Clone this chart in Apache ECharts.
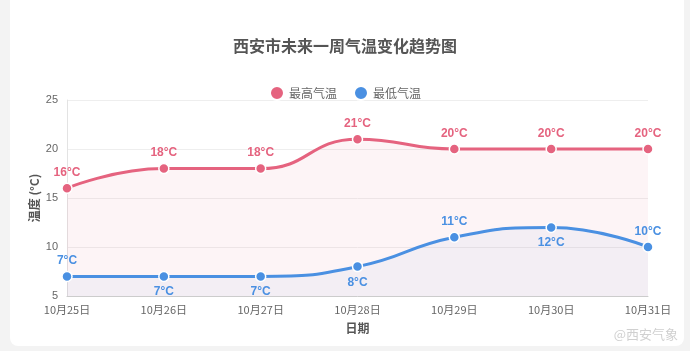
<!DOCTYPE html>
<html>
<head>
<meta charset="utf-8">
<script src="https://cdn.jsdelivr.net/npm/echarts@6/dist/echarts.min.js"></script>
<style>
  html, body { margin: 0; padding: 0; background: #f3f3f3; }
  .card { position: absolute; left: 10px; top: -10px; width: 674px; height: 356px; background: #fff; border-radius: 8px; }
  #chart { position: absolute; left: 0; top: 0; width: 690px; height: 351px; }
</style>
</head>
<body>
<div class="card"></div>
<div id="chart"></div>
<script>
  const days = ['10月25日', '10月26日', '10月27日', '10月28日', '10月29日', '10月30日', '10月31日'];
  const highTemp = [16, 18, 18, 21, 20, 20, 20];
  const lowTemp = [7, 7, 7, 8, 11, 12, 10];
  // 低温标签位置
  const lowLabelPos = ['top', 'bottom', 'bottom', 'bottom', 'top', 'bottom', 'top'];

  const red = '#e5637f';
  const blue = '#4a90e2';

  const chart = echarts.init(document.getElementById('chart'));
  const option = {
    title: {
      text: '西安市未来一周气温变化趋势图',
      left: 'center',
      top: 33,
      textStyle: { color: '#555', fontSize: 16, fontWeight: 'bold', fontFamily: 'Noto Sans CJK SC' }
    },
    legend: {
      top: 80,
      left: 'center',
      icon: 'circle',
      itemWidth: 14,
      itemHeight: 14,
      itemGap: 16,
      textStyle: { color: '#666', fontSize: 12, fontFamily: 'Noto Sans CJK SC' },
      data: ['最高气温', '最低气温']
    },
    grid: { left: 67, right: 42, top: 100, bottom: 55 },
    xAxis: {
      type: 'category',
      data: days,
      boundaryGap: false,
      name: '日期',
      nameLocation: 'middle',
      nameGap: 26,
      nameTextStyle: { color: '#555', fontSize: 12, fontWeight: 'bold', fontFamily: 'Noto Sans CJK SC' },
      axisLine: { lineStyle: { color: '#ccc' } },
      axisTick: { show: false },
      axisLabel: { color: '#666', fontSize: 11, margin: 8, fontFamily: 'Noto Sans CJK SC' }
    },
    yAxis: {
      type: 'value',
      min: 5,
      max: 25,
      interval: 5,
      name: '温度 (°C)',
      nameLocation: 'middle',
      nameRotate: 90,
      nameGap: 27,
      nameMoveOverlap: false,
      nameTextStyle: { color: '#555', fontSize: 12, fontWeight: 'bold', fontFamily: 'Noto Sans CJK SC' },
      axisLine: { show: true, lineStyle: { color: '#e3e3e3' } },
      axisTick: { show: false },
      axisLabel: { color: '#666', fontSize: 11, margin: 9 },
      splitLine: { lineStyle: { color: '#eee' } }
    },
    series: [
      {
        name: '最高气温',
        type: 'line',
        smooth: true,
        data: highTemp,
        symbol: 'circle',
        symbolSize: 10,
        itemStyle: { color: red, borderColor: '#fff', borderWidth: 1.5 },
        lineStyle: { color: red, width: 3 },
        areaStyle: { color: 'rgba(229,99,127,0.1)' },
        label: {
          show: true,
          position: 'top',
          distance: 4,
          formatter: '{c}°C',
          color: red,
          fontSize: 12,
          fontWeight: 'bold'
        }
      },
      {
        name: '最低气温',
        type: 'line',
        smooth: true,
        data: lowTemp.map((v, i) => ({
          value: v,
          label: { position: lowLabelPos[i] }
        })),
        symbol: 'circle',
        symbolSize: 10,
        itemStyle: { color: blue, borderColor: '#fff', borderWidth: 1.5 },
        lineStyle: { color: blue, width: 3 },
        areaStyle: { color: 'rgba(74,144,226,0.08)' },
        label: {
          show: true,
          distance: 4,
          formatter: '{c}°C',
          color: blue,
          fontSize: 12,
          fontWeight: 'bold'
        }
      }
    ],
    graphic: [
      {
        type: 'text',
        right: 12,
        bottom: 10,
        style: { text: '@西安气象', fill: '#d0d0d0', fontSize: 13, fontFamily: 'Noto Sans CJK SC' }
      }
    ]
  };
  chart.setOption(option);
</script>
</body>
</html>
